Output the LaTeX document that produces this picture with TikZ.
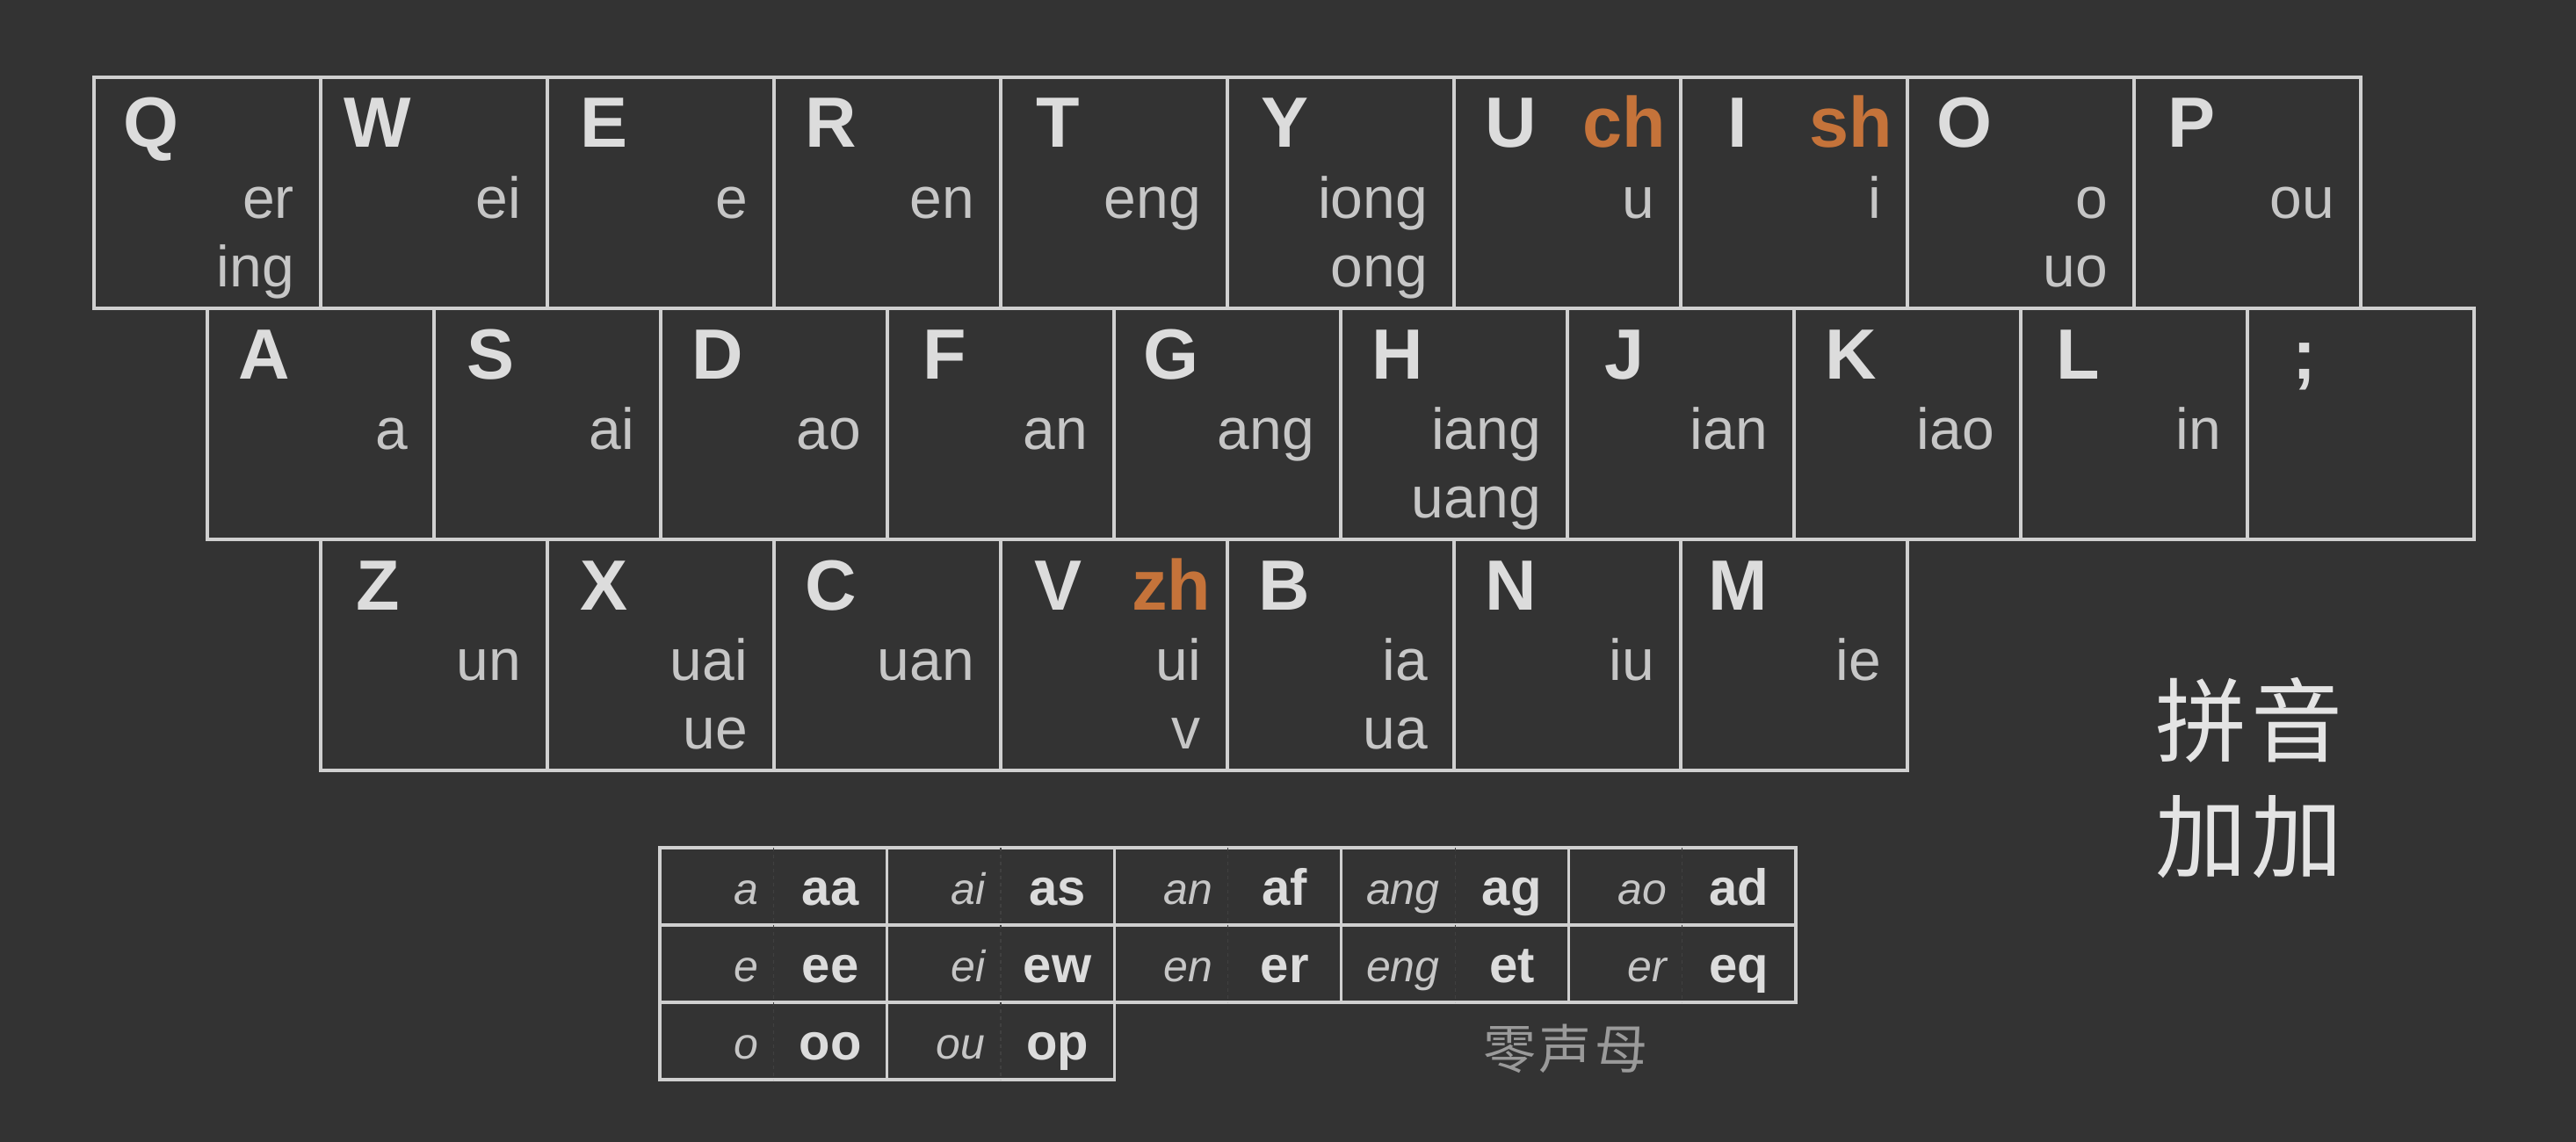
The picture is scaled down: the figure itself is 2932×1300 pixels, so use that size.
\documentclass[tikz,border=0pt]{standalone}
\usepackage{fontspec}
\setmainfont{Liberation Sans}
\newfontfamily\cjk{Noto Sans CJK SC}
\usetikzlibrary{calc}
\definecolor{bgc}{HTML}{333333}
\definecolor{edgec}{HTML}{D0D0D0}
\definecolor{lettc}{HTML}{DCDCDC}
\definecolor{subc}{HTML}{C6C6C6}
\definecolor{orngc}{HTML}{C5733A}
\definecolor{divc}{HTML}{404040}
\definecolor{zeroc}{HTML}{9A9A9A}
\definecolor{pyc}{HTML}{E4E4E4}
\tikzset{
 keybox/.style={draw=edgec, line width=3.2pt, minimum width=258pt, minimum height=263pt, anchor=north west, inner sep=0pt, outer sep=0pt},
 keylet/.style={anchor=base, inner sep=0pt, text=lettc, font=\fontsize{81}{81}\selectfont\bfseries},
 keyorg/.style={anchor=base, inner sep=0pt, text=orngc, font=\fontsize{81}{81}\selectfont\bfseries},
 keysub/.style={anchor=base east, inner sep=0pt, text=subc, font=\fontsize{66}{66}\selectfont},
 cellbox/.style={draw=edgec, line width=3.2pt, minimum width=258.6pt, minimum height=88pt, anchor=north west, inner sep=0pt, outer sep=0pt},
 cellit/.style={anchor=base east, inner sep=0pt, text=subc, font=\fontsize{50}{50}\selectfont\itshape},
 cellbf/.style={anchor=base, inner sep=0pt, text=lettc, font=\fontsize{58}{58}\selectfont\bfseries},
 celldiv/.style={draw=divc, line width=1.2pt, dash pattern=on 4pt off 4pt},
 zerolbl/.style={inner sep=0pt, text=zeroc, font=\cjk\fontsize{60}{60}\selectfont},
 pylbl/.style={inner sep=0pt, text=pyc, font=\cjk\fontsize{104}{104}\selectfont},
}
\newcommand\whennonempty[2]{\if\relax\detokenize{#1}\relax\else #2\fi}
\newcommand\kk[7]{%
 \node[keybox] (#1) at (#2,#3) {};
 \node[keylet] (#1-l) at ($(#1.north west)+(65,80)$) {#4};
 \whennonempty{#5}{\node[keyorg] (#1-o) at ($(#1.north west)+(194,80)$) {#5};}
 \whennonempty{#6}{\node[keysub] (#1-a) at ($(#1.north east)+(-30,160)$) {#6};}
 \whennonempty{#7}{\node[keysub] (#1-b) at ($(#1.north east)+(-30,238)$) {#7};}
}
\newcommand\zc[5]{%
 \node[cellbox] (#1) at (#2,#3) {};
 \draw[celldiv] (#1.north) -- (#1.south);
 \node[cellit] (#1-i) at ($(#1.north west)+(112,64)$) {#4};
 \node[cellbf] (#1-b) at ($(#1.north west)+(194,65)$) {#5};
}
\begin{document}
\begin{tikzpicture}[x=1pt,y=-1pt]
\fill[bgc] (0,0) rectangle (2932,1300);
\useasboundingbox (0,0) rectangle (2932,1300);
% row 1
\kk{kQ}{107}{88}{Q}{}{er}{ing}
\kk{kW}{365}{88}{W}{}{ei}{}
\kk{kE}{623}{88}{E}{}{e}{}
\kk{kR}{881}{88}{R}{}{en}{}
\kk{kT}{1139}{88}{T}{}{eng}{}
\kk{kY}{1397}{88}{Y}{}{iong}{ong}
\kk{kU}{1655}{88}{U}{ch}{u}{}
\kk{kI}{1913}{88}{I}{sh}{i}{}
\kk{kO}{2171}{88}{O}{}{o}{uo}
\kk{kP}{2429}{88}{P}{}{ou}{}
% row 2
\kk{kA}{236}{351}{A}{}{a}{}
\kk{kS}{494}{351}{S}{}{ai}{}
\kk{kD}{752}{351}{D}{}{ao}{}
\kk{kF}{1010}{351}{F}{}{an}{}
\kk{kG}{1268}{351}{G}{}{ang}{}
\kk{kH}{1526}{351}{H}{}{iang}{uang}
\kk{kJ}{1784}{351}{J}{}{ian}{}
\kk{kK}{2042}{351}{K}{}{iao}{}
\kk{kL}{2300}{351}{L}{}{in}{}
\kk{kSemi}{2558}{351}{;}{}{}{}
% row 3
\kk{kZ}{365}{614}{Z}{}{un}{}
\kk{kX}{623}{614}{X}{}{uai}{ue}
\kk{kC}{881}{614}{C}{}{uan}{}
\kk{kV}{1139}{614}{V}{zh}{ui}{v}
\kk{kB}{1397}{614}{B}{}{ia}{ua}
\kk{kN}{1655}{614}{N}{}{iu}{}
\kk{kM}{1913}{614}{M}{}{ie}{}
% zero-initial table
\zc{c11}{751}{965}{a}{aa}
\zc{c12}{1009.6}{965}{ai}{as}
\zc{c13}{1268.2}{965}{an}{af}
\zc{c14}{1526.8}{965}{ang}{ag}
\zc{c15}{1785.4}{965}{ao}{ad}
\zc{c21}{751}{1053}{e}{ee}
\zc{c22}{1009.6}{1053}{ei}{ew}
\zc{c23}{1268.2}{1053}{en}{er}
\zc{c24}{1526.8}{1053}{eng}{et}
\zc{c25}{1785.4}{1053}{er}{eq}
\zc{c31}{751}{1141}{o}{oo}
\zc{c32}{1009.6}{1141}{ou}{op}
\node[zerolbl] (zero) at (1782,1194) {零\hspace{4pt}声\hspace{4pt}母};
\node[pylbl] (py1) at (2560,820) {拼\hspace{6pt}音};
\node[pylbl] (py2) at (2560,953) {加\hspace{6pt}加};
\end{tikzpicture}
\end{document}
